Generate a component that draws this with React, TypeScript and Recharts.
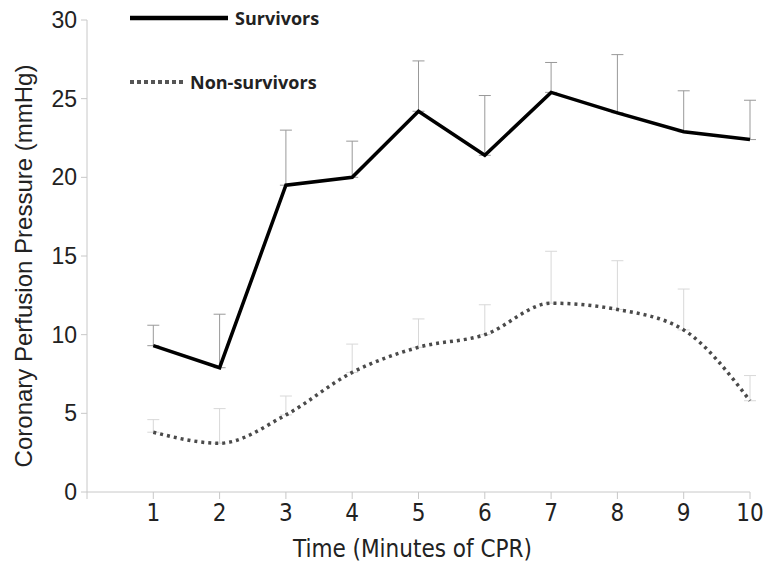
import React from 'react';
import { LineChart, Line, XAxis, YAxis, ErrorBar, Label } from 'recharts';

const minutes = [1, 2, 3, 4, 5, 6, 7, 8, 9, 10];
const survivors = [9.3, 7.9, 19.5, 20.0, 24.2, 21.4, 25.4, 24.1, 22.9, 22.4];
const survivorsErr = [1.3, 3.4, 3.5, 2.3, 3.2, 3.8, 1.9, 3.7, 2.6, 2.5];
const nonSurvivors = [3.8, 3.1, 4.9, 7.6, 9.2, 10.0, 12.0, 11.6, 10.3, 5.8];
const nonSurvivorsErr = [0.8, 2.2, 1.2, 1.8, 1.8, 1.9, 3.3, 3.1, 2.6, 1.6];
const xTicks = [0, 1, 2, 3, 4, 5, 6, 7, 8, 9, 10];
const yTicks = [0, 5, 10, 15, 20, 25, 30];

const data = minutes.map((m, i) => ({
  minute: m,
  survivors: survivors[i],
  sErr: [0, survivorsErr[i]],
  nonSurvivors: nonSurvivors[i],
  nErr: [0, nonSurvivorsErr[i]],
}));

const narrow = "'Liberation Sans Narrow', 'DejaVu Sans Condensed', sans-serif";
const sans = "'Liberation Sans', Arial, sans-serif";

export default function App() {
  if (typeof document !== 'undefined') document.body.style.margin = '0';
  return (
    <div style={{ position: 'relative', width: 763, height: 566, background: '#fff' }}>
      <LineChart width={763} height={566} data={data} margin={{ top: 20, right: 13, left: 0, bottom: 0 }}>
        <XAxis
          dataKey="minute"
          type="number"
          domain={[0, 10]}
          ticks={xTicks}
          tickFormatter={(v) => (v === 0 ? '' : String(v))}
          height={74}
          stroke="#c8c8c8"
          tickSize={7}
          tick={{ fill: '#222', fontSize: 24, fontFamily: narrow }}
          tickMargin={5}
        >
          <Label
            value="Time (Minutes of CPR)"
            position="insideBottom"
            offset={9}
            dx={-6}
            style={{ fill: '#222', fontSize: 24, fontFamily: narrow }}
          />
        </XAxis>
        <YAxis
          domain={[0, 30]}
          ticks={yTicks}
          width={87}
          stroke="#c8c8c8"
          tickSize={6}
          tick={{ fill: '#222', fontSize: 23, fontFamily: sans }}
          tickMargin={4}
        >
          <Label
            value="Coronary Perfusion Pressure (mmHg)"
            angle={-90}
            position="insideLeft"
            offset={23}
            dy={10}
            style={{ textAnchor: 'middle', fill: '#222', fontSize: 24, fontFamily: sans }}
          />
        </YAxis>
        <Line
          type="monotone"
          dataKey="nonSurvivors"
          stroke="#4a4a4a"
          strokeWidth={3.5}
          strokeDasharray="3 4"
          dot={false}
          isAnimationActive={false}
        >
          <ErrorBar dataKey="nErr" direction="y" width={6} stroke="#d8d8d8" strokeWidth={1} />
        </Line>
        <Line
          type="linear"
          dataKey="survivors"
          stroke="#000"
          strokeWidth={3.5}
          dot={false}
          isAnimationActive={false}
        >
          <ErrorBar dataKey="sErr" direction="y" width={6} stroke="#999" strokeWidth={1} />
        </Line>
      </LineChart>
      <svg style={{ position: 'absolute', left: 0, top: 0 }} width={763} height={120}>
        <line x1={130} y1={18} x2={228} y2={18} stroke="#000" strokeWidth={4.5} />
        <text x={235} y={25} fontSize={18} fontWeight="bold" fontFamily="'Open Sans', sans-serif" fill="#222">Survivors</text>
        <line x1={130} y1={82} x2={186} y2={82} stroke="#555" strokeWidth={4} strokeDasharray="4 3" />
        <text x={190} y={89} fontSize={18} fontWeight="bold" fontFamily="'Open Sans', sans-serif" fill="#222">Non-survivors</text>
      </svg>
    </div>
  );
}
